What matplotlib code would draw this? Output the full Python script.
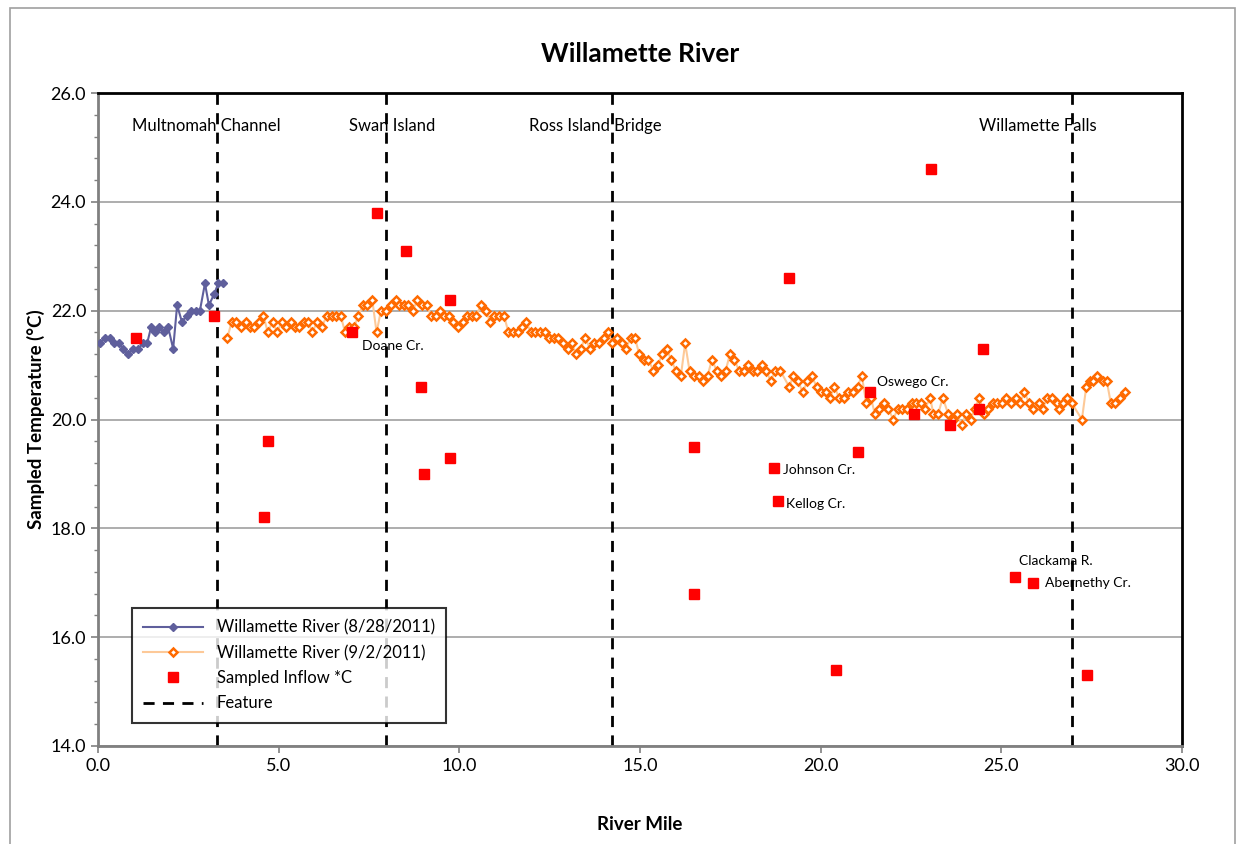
import numpy as np
import matplotlib.pyplot as plt
import matplotlib as mpl

plt.rcParams['font.family'] = ['Lato', 'DejaVu Sans']

# Willamette River 8/28/2011 (river mile, temperature C)
mile_0828 = [0.05, 0.19, 0.33, 0.44, 0.58, 0.69, 0.83, 0.97, 1.11, 1.25,
             1.36, 1.47, 1.58, 1.69, 1.83, 1.94, 2.08, 2.19, 2.32, 2.46,
             2.57, 2.71, 2.82, 2.96, 3.07, 3.21, 3.33, 3.47]
temp_0828 = [21.4, 21.5, 21.5, 21.4, 21.4, 21.3, 21.2, 21.3, 21.3, 21.4,
             21.4, 21.7, 21.6, 21.7, 21.6, 21.7, 21.3, 22.1, 21.8, 21.9,
             22.0, 22.0, 22.0, 22.5, 22.1, 22.3, 22.5, 22.5]

# Willamette River 9/2/2011
mile_0902 = [3.58, 3.70, 3.82, 3.95, 4.09, 4.21, 4.33, 4.46, 4.58, 4.70,
             4.83, 4.96, 5.08, 5.20, 5.33, 5.45, 5.57, 5.70, 5.82, 5.93,
             6.07, 6.19, 6.33, 6.47, 6.59, 6.72, 6.84, 6.96, 7.09, 7.20,
             7.33, 7.45, 7.59, 7.71, 7.83, 7.96, 8.10, 8.24, 8.34, 8.47,
             8.59, 8.71, 8.84, 8.96, 9.10, 9.22, 9.35, 9.47, 9.58, 9.71,
             9.83, 9.97, 10.09, 10.22, 10.34, 10.46, 10.60, 10.73, 10.85, 10.97,
             11.11, 11.24, 11.36, 11.49, 11.62, 11.73, 11.85, 11.98, 12.10, 12.23,
             12.37, 12.49, 12.62, 12.74, 12.88, 13.02, 13.11, 13.23, 13.36, 13.48,
             13.62, 13.74, 13.87, 13.99, 14.12, 14.23, 14.37, 14.49, 14.61, 14.74,
             14.86, 14.98, 15.11, 15.23, 15.37, 15.49, 15.62, 15.74, 15.86, 15.99,
             16.13, 16.25, 16.37, 16.50, 16.62, 16.74, 16.87, 16.99, 17.12, 17.24,
             17.37, 17.49, 17.61, 17.74, 17.88, 18.00, 18.12, 18.25, 18.37, 18.49,
             18.62, 18.74, 18.88, 19.13, 19.24, 19.38, 19.50, 19.63, 19.75, 19.89,
             20.01, 20.14, 20.26, 20.38, 20.51, 20.65, 20.77, 20.89, 21.02, 21.14,
             21.26, 21.39, 21.50, 21.62, 21.75, 21.87, 22.01, 22.13, 22.26, 22.38,
             22.52, 22.64, 22.77, 22.89, 23.03, 23.12, 23.25, 23.38, 23.53, 23.65,
             23.78, 23.90, 24.02, 24.15, 24.27, 24.39, 24.52, 24.64, 24.76, 24.89,
             25.01, 25.13, 25.26, 25.40, 25.52, 25.64, 25.77, 25.89, 26.03, 26.15,
             26.27, 26.41, 26.53, 26.60, 26.72, 26.81, 26.95, 27.23, 27.35, 27.46,
             27.53, 27.66, 27.80, 27.92, 28.03, 28.15, 28.29, 28.42]
temp_0902 = [21.5, 21.8, 21.8, 21.7, 21.8, 21.7, 21.7, 21.8, 21.9, 21.6,
             21.8, 21.6, 21.8, 21.7, 21.8, 21.7, 21.7, 21.8, 21.8, 21.6,
             21.8, 21.7, 21.9, 21.9, 21.9, 21.9, 21.6, 21.7, 21.7, 21.9,
             22.1, 22.1, 22.2, 21.6, 22.0, 22.0, 22.1, 22.2, 22.1, 22.1,
             22.1, 22.0, 22.2, 22.1, 22.1, 21.9, 21.9, 22.0, 21.9, 21.9,
             21.8, 21.7, 21.8, 21.9, 21.9, 21.9, 22.1, 22.0, 21.8, 21.9,
             21.9, 21.9, 21.6, 21.6, 21.6, 21.7, 21.8, 21.6, 21.6, 21.6,
             21.6, 21.5, 21.5, 21.5, 21.4, 21.3, 21.4, 21.2, 21.3, 21.5,
             21.3, 21.4, 21.4, 21.5, 21.6, 21.4, 21.5, 21.4, 21.3, 21.5,
             21.5, 21.2, 21.1, 21.1, 20.9, 21.0, 21.2, 21.3, 21.1, 20.9,
             20.8, 21.4, 20.9, 20.8, 20.8, 20.7, 20.8, 21.1, 20.9, 20.8,
             20.9, 21.2, 21.1, 20.9, 20.9, 21.0, 20.9, 20.9, 21.0, 20.9,
             20.7, 20.9, 20.9, 20.6, 20.8, 20.7, 20.5, 20.7, 20.8, 20.6,
             20.5, 20.5, 20.4, 20.6, 20.4, 20.4, 20.5, 20.5, 20.6, 20.8,
             20.3, 20.4, 20.1, 20.2, 20.3, 20.2, 20.0, 20.2, 20.2, 20.2,
             20.3, 20.3, 20.3, 20.2, 20.4, 20.1, 20.1, 20.4, 20.1, 20.0,
             20.1, 19.9, 20.1, 20.0, 20.2, 20.4, 20.1, 20.2, 20.3, 20.3,
             20.3, 20.4, 20.3, 20.4, 20.3, 20.5, 20.3, 20.2, 20.3, 20.2,
             20.4, 20.4, 20.3, 20.2, 20.3, 20.4, 20.3, 20.0, 20.6, 20.7,
             20.7, 20.8, 20.7, 20.7, 20.3, 20.3, 20.4, 20.5]

# sampled inflows
inflow_mile = [1.05, 3.21, 4.59, 4.71, 7.03, 7.72, 8.52, 8.94, 9.02, 9.74,
               9.74, 16.50, 16.50, 18.71, 18.82, 19.12, 20.43, 21.03, 21.37, 22.57,
               23.05, 23.57, 24.39, 24.49, 25.38, 25.88, 27.37]
inflow_temp = [21.5, 21.9, 18.2, 19.6, 21.6, 23.8, 23.1, 20.6, 19.0, 22.2,
               19.3, 19.5, 16.8, 19.1, 18.5, 22.6, 15.4, 19.4, 20.5, 20.1,
               24.6, 19.9, 20.2, 21.3, 17.1, 17.0, 15.3]

# features along the river
feature_mile = [3.3, 7.96, 14.22, 26.96]
feature_names = ["Multnomah Channel", "Swan Island", "Ross Island Bridge", "Willamette Falls"]
feature_label_x = [3.0, 8.15, 13.75, 26.0]

# labelled creeks
creek_names = ["Doane Cr.", "Oswego Cr.", "Johnson Cr.", "Kellog Cr.", "Clackama R.", "Abernethy Cr."]
creek_x = [7.3, 21.55, 18.95, 19.05, 25.5, 26.2]
creek_y = [21.35, 20.68, 19.07, 18.45, 17.4, 17.0]

fig = plt.figure(figsize=(12.38, 8.44), dpi=100)
ax = fig.add_axes([98/1238, 1-746/844, 1084/1238, 653/844])

# outer chart border
fig.patches.append(mpl.patches.Rectangle((10/1238, -0.05), 1225/1238, 1-8/844+0.05,
                                         transform=fig.transFigure, fill=False,
                                         edgecolor='#a0a0a0', lw=1.2))

ax.set_xlim(0, 30)
ax.set_ylim(14, 26)
ax.set_yticks(np.arange(14, 26.1, 2))
ax.set_xticks(np.arange(0, 30.1, 5))
ax.set_yticks(np.arange(14, 26.1, 0.4), minor=True)
ax.yaxis.set_major_formatter(mpl.ticker.FormatStrFormatter('%.1f'))
ax.xaxis.set_major_formatter(mpl.ticker.FormatStrFormatter('%.1f'))
ax.tick_params(axis='both', which='major', direction='out', length=5, width=1.2,
               labelsize=13, color='#808080')
ax.tick_params(axis='y', which='minor', direction='out', length=3, width=1, color='#808080')
ax.grid(axis='y', color='#a0a0a0', lw=1.2)
ax.set_axisbelow(True)
for s in ['top', 'right']:
    ax.spines[s].set_color('black')
    ax.spines[s].set_linewidth(2)
for s in ['left', 'bottom']:
    ax.spines[s].set_color('#808080')
    ax.spines[s].set_linewidth(2)

ax.plot(mile_0828, temp_0828, color='#5f5f9c', lw=1.5, marker='D', ms=4.5,
        mfc='#5f5f9c', mec='#5f5f9c', label='Willamette River (8/28/2011)', zorder=3)
ax.plot(mile_0902, temp_0902, color='#fdc998', lw=1.5, marker='D', ms=4,
        mfc='white', mec='#ff6a00', mew=1.8, label='Willamette River (9/2/2011)', zorder=3)
ax.plot(inflow_mile, inflow_temp, ls='none', marker='s', ms=7, color='#ff0000',
        label='Sampled Inflow *C', zorder=4)
for i, fx in enumerate(feature_mile):
    ax.axvline(fx, color='black', lw=2, ls=(0, (4, 3)), zorder=2,
               label='Feature' if i == 0 else None)

for name, lx in zip(feature_names, feature_label_x):
    ax.text(lx, 25.4, name, ha='center', va='center', fontsize=12)
for name, cx, cy in zip(creek_names, creek_x, creek_y):
    ax.text(cx, cy, name, ha='left', va='center', fontsize=10)

ax.set_title('Willamette River', fontsize=19, fontweight='bold', pad=22)
fig.text(640/1238, 1-825/844, 'River Mile', ha='center', va='center',
         fontsize=13.5, fontweight='bold')
ax.set_ylabel('Sampled Temperature (\u00b0C)', fontsize=13.5, fontweight='bold', labelpad=4)

leg = ax.legend(loc='lower left', bbox_to_anchor=(0.031, 0.035), borderaxespad=0,
                fontsize=12, frameon=True, fancybox=False, edgecolor='black',
                handlelength=3.6, borderpad=0.7, labelspacing=0.55)
leg.get_frame().set_linewidth(1.5)

plt.savefig('out.png', dpi=100)
